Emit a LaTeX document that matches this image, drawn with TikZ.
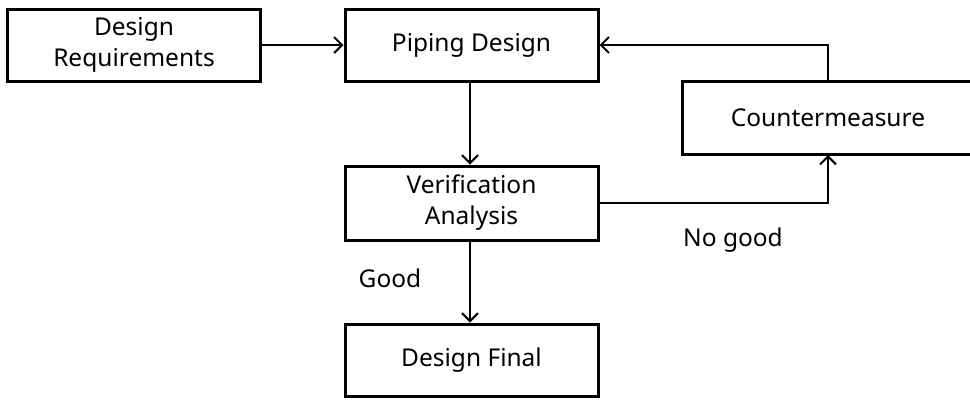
\documentclass[tikz,border=0pt]{standalone}
\usepackage{fontspec}
\setmainfont{Noto Sans}
\usetikzlibrary{arrows.meta}
\begin{document}
\begin{tikzpicture}[x=1pt,y=-1pt,
  box/.style={draw=black,line width=3pt,minimum width=#1,minimum height=72pt,inner sep=0pt,align=center,font=\fontsize{24.5}{31}\selectfont},
  box/.default=253pt,
  flow/.style={line width=2pt,-{Straight Barb[length=8pt,width=16pt,line width=2pt]}},
  lbl/.style={font=\fontsize{24.5}{31}\selectfont,inner sep=0pt}]
\useasboundingbox (0,0) rectangle (970,400);
\begin{scope}
\clip (0,0) rectangle (970,400);
\node[box] (req) at (134,45) {Design\\Requirements};
\node[box] (pipe) at (471.5,45) {Piping Design};
\node[box=300pt,minimum height=73pt] (cm) at (832,118) {};
\node[lbl] (cmt) at (828,118) {Countermeasure};
\node[box,minimum height=74pt] (ver) at (471.5,203) {Verification\\Analysis};
\node[box] (fin) at (471.5,360) {Design Final};
\end{scope}
\coordinate (cmtop) at (828,81);
\coordinate (cmbot) at (828,155);
\draw[flow] (req.east) -- (pipe.west);
\draw[flow] (pipe.south -| 470,0) -- (ver.north -| 470,0);
\draw[flow] (ver.south -| 470,0) -- (fin.north -| 470,0);
\draw[flow] (ver.east) -- (ver.east -| cmbot) -- (cmbot);
\draw[flow] (cmtop) |- (pipe.east);
\node[lbl] (good) at (390,278) {Good};
\node[lbl] (nogood) at (733,240) {No good};
\end{tikzpicture}
\end{document}
